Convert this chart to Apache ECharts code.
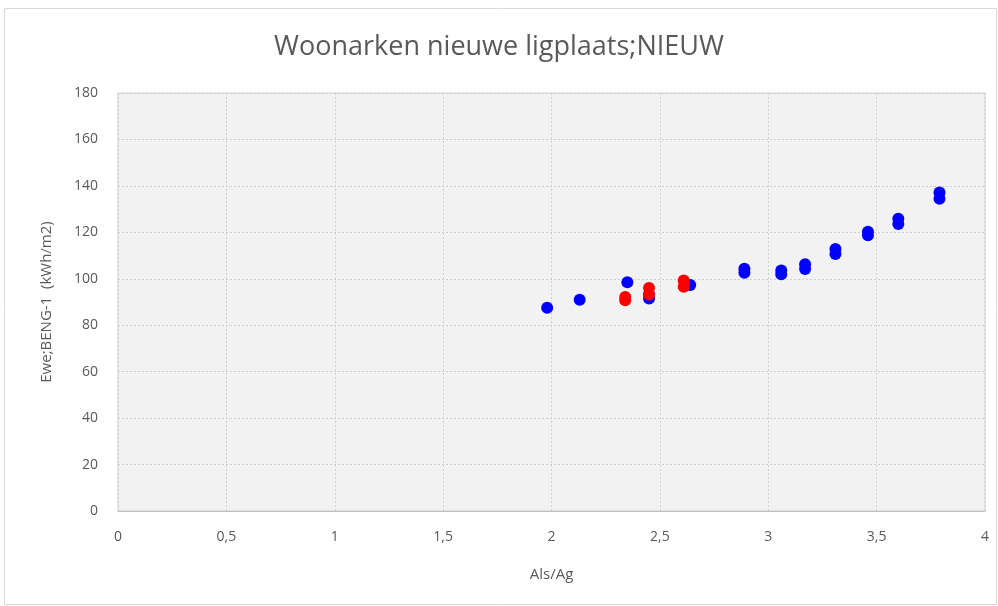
<!DOCTYPE html>
<html>
<head>
<meta charset="utf-8">
<script src="https://cdn.jsdelivr.net/npm/echarts@6/dist/echarts.min.js"></script>
<style>
  html, body { margin: 0; padding: 0; background: #fff; }
  #chart { width: 998px; height: 606px; }
</style>
</head>
<body>
<div id="chart"></div>
<script>
// blauwe punten [Als/Ag, Ewe]
const bluePoints = [
  [1.98, 87.5], [2.13, 91], [2.35, 98.5], [2.45, 91.5], [2.45, 93.3],
  [2.64, 97.3], [2.89, 104.3], [2.89, 102.6], [3.06, 103.6], [3.06, 101.9],
  [3.17, 106.3], [3.17, 104.2], [3.31, 112.8], [3.31, 110.7], [3.46, 120.3],
  [3.46, 118.7], [3.6, 125.8], [3.6, 123.6], [3.79, 137.2], [3.79, 134.5]
];
// rode punten
const redPoints = [
  [2.34, 92.2], [2.34, 90.8], [2.45, 96], [2.45, 93.2], [2.61, 99.3], [2.61, 96.6]
];
const titleText = 'Woonarken nieuwe ligplaats;NIEUW';
const xName = 'Als/Ag';
const yName = 'Ewe;BENG-1  (kWh/m2)';

const font = '"Open Sans", sans-serif';
const textColor = '#595959';

const chart = echarts.init(document.getElementById('chart'));

const option = {
  backgroundColor: '#fff',
  animation: false,
  title: {
    text: titleText,
    left: 'center',
    top: 29,
    textStyle: { color: textColor, fontSize: 27, fontWeight: 'normal', fontFamily: font }
  },
  graphic: [{
    type: 'rect',
    shape: { x: 4.5, y: 8.5, width: 992, height: 596 },
    style: { fill: 'none', stroke: '#d9d9d9', lineWidth: 1 },
    silent: true
  }],
  grid: {
    left: 118,
    right: 13,
    top: 93,
    bottom: 95,
    show: true,
    backgroundColor: '#f2f2f2',
    borderColor: '#d0d0d0',
    borderWidth: 1
  },
  xAxis: {
    type: 'value',
    min: 0,
    max: 4,
    interval: 0.5,
    name: xName,
    nameLocation: 'middle',
    nameGap: 56,
    nameTextStyle: { color: textColor, fontSize: 15, fontFamily: font },
    axisLine: { show: true, lineStyle: { color: '#bfbfbf', width: 1 } },
    axisTick: { show: false },
    axisLabel: {
      color: textColor, fontSize: 14, fontFamily: font, margin: 19,
      formatter: v => String(v).replace('.', ',')
    },
    splitLine: { show: true, lineStyle: { color: '#cfcfcf', type: [2, 2] } }
  },
  yAxis: {
    type: 'value',
    min: 0,
    max: 180,
    interval: 20,
    name: yName,
    nameLocation: 'middle',
    nameGap: 64,
    nameTextStyle: { color: textColor, fontSize: 15, fontFamily: font },
    axisLine: { show: false },
    axisTick: { show: false },
    axisLabel: { color: textColor, fontSize: 14, fontFamily: font, margin: 20 },
    splitLine: { show: true, lineStyle: { color: '#cfcfcf', type: [2, 2] } }
  },
  series: [
    {
      type: 'scatter',
      data: bluePoints,
      symbolSize: 12,
      itemStyle: { color: '#0000ff', opacity: 1 }
    },
    {
      type: 'scatter',
      data: redPoints,
      symbolSize: 12,
      itemStyle: { color: '#ff0000', opacity: 1 }
    }
  ]
};

chart.setOption(option);
</script>
</body>
</html>
